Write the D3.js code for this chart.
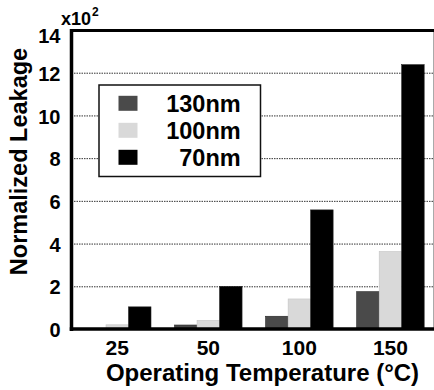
<!DOCTYPE html>
<html>
<head>
<meta charset="utf-8">
<script src="https://cdn.jsdelivr.net/npm/d3@7"></script>
<style>
  html, body { margin: 0; padding: 0; background: #fff; }
  svg { display: block; font-family: "Liberation Sans", Arial, sans-serif; font-weight: bold; }
</style>
</head>
<body>
<svg id="chart" width="434" height="390"></svg>
<script>
const categories = ["25", "50", "100", "150"];
const seriesNames = ["130nm", "100nm", "70nm"];
const values130 = [0.05, 0.21, 0.62, 1.77];
const values100 = [0.22, 0.43, 1.43, 3.65];
const values70  = [1.06, 2.02, 5.6, 12.4];
const yTicks = [0, 2, 4, 6, 8, 10, 12, 14];
const colors = ["#4a4a4a", "#d9d9d9", "#000000"];

const seriesValues = [values130, values100, values70];
const svg = d3.select("#chart");

const y = d3.scaleLinear().domain([0, 14]).range([329.5, 30.5]);
const x = d3.scaleBand().domain(categories).range([71.5, 436.2])
  .paddingInner(0.259).paddingOuter(0.132);
const xs = d3.scaleBand().domain(seriesNames).range([0, x.bandwidth()]);
const color = d3.scaleOrdinal().domain(seriesNames).range(colors);

const left = 71.5, right = 433.5;

// gridlines
svg.append("g").selectAll("line").data(yTicks.filter(t => t > 0 && t < 14)).join("line")
  .attr("x1", left).attr("x2", right)
  .attr("y1", d => y(d)).attr("y2", d => y(d))
  .attr("stroke", "#333").attr("stroke-width", 1).attr("stroke-dasharray", "1.5,1");

// bars
const rows = [];
categories.forEach((c, i) => seriesNames.forEach((s, j) => rows.push({c, s, v: seriesValues[j][i]})));
svg.append("g").selectAll("rect").data(rows).join("rect")
  .attr("x", d => x(d.c) + xs(d.s))
  .attr("width", xs.bandwidth())
  .attr("y", d => y(d.v))
  .attr("height", d => y(0) - y(d.v))
  .attr("fill", d => color(d.s))
  .attr("stroke", d => d.s === "100nm" ? "#c4c4c4" : "#222")
  .attr("stroke-width", 0.6);

// frame
svg.append("line").attr("x1", right).attr("x2", right).attr("y1", y(14)).attr("y2", y(0))
  .attr("stroke", "#aaa").attr("stroke-width", 1);
svg.append("line").attr("x1", left - 1.5).attr("x2", 434).attr("y1", y(14)).attr("y2", y(14))
  .attr("stroke", "#000").attr("stroke-width", 3);
svg.append("line").attr("x1", left).attr("x2", left).attr("y1", y(14) - 1.5).attr("y2", y(0) + 1.5)
  .attr("stroke", "#000").attr("stroke-width", 3.5);
svg.append("line").attr("x1", left - 1.75).attr("x2", 434).attr("y1", 329).attr("y2", 329)
  .attr("stroke", "#000").attr("stroke-width", 3.5);

// y axis labels
const yAxis = d3.axisLeft(y).tickValues(yTicks).tickSize(0).tickPadding(11).tickFormat(d3.format("d"));
const gy = svg.append("g").attr("transform", `translate(${left},0)`).call(yAxis);
gy.select(".domain").remove();
gy.selectAll("text").attr("font-size", 20).attr("font-weight", "bold")
  .attr("font-family", "Liberation Sans, Arial, sans-serif").attr("fill", "#000")
  .attr("dy", d => d === 14 ? "0.6em" : "0.36em");

// x axis labels
const xAxis = d3.axisBottom(x).tickSize(0).tickPadding(0);
const gx = svg.append("g").attr("transform", `translate(0,${y(0)})`).call(xAxis);
gx.select(".domain").remove();
gx.selectAll("text").attr("font-size", 21).attr("font-weight", "bold")
  .attr("font-family", "Liberation Sans, Arial, sans-serif").attr("fill", "#000")
  .attr("dy", null).attr("y", 25.5);

// multiplier
const mult = svg.append("text").attr("x", 61).attr("y", 25).attr("font-size", 18).attr("fill", "#000");
mult.append("tspan").text("x10");
mult.append("tspan").attr("font-size", 12).attr("dy", -9).attr("dx", 1).text("2");

// axis titles
svg.append("text").attr("x", 262.5).attr("y", 381).attr("text-anchor", "middle")
  .attr("font-size", 24).attr("fill", "#000").text("Operating Temperature (°C)");
svg.append("text").attr("transform", "translate(27,161.5) rotate(-90)").attr("text-anchor", "middle")
  .attr("font-size", 23.5).attr("fill", "#000").text("Normalized Leakage");

// legend
const lg = svg.append("g");
lg.append("rect").attr("x", 99).attr("y", 85).attr("width", 161.5).attr("height", 91.5)
  .attr("fill", "#fff").attr("stroke", "#111").attr("stroke-width", 1.5);
seriesNames.forEach((s, i) => {
  const cy = 103.3 + i * 27;
  lg.append("rect").attr("x", 118.5).attr("y", cy - 7.5).attr("width", 19).attr("height", 15)
    .attr("fill", color(s));
  lg.append("text").attr("x", 240.7).attr("y", cy + 8.5).attr("text-anchor", "end")
    .attr("font-size", 23.5).attr("fill", "#000").text(s);
});
</script>
</body>
</html>
